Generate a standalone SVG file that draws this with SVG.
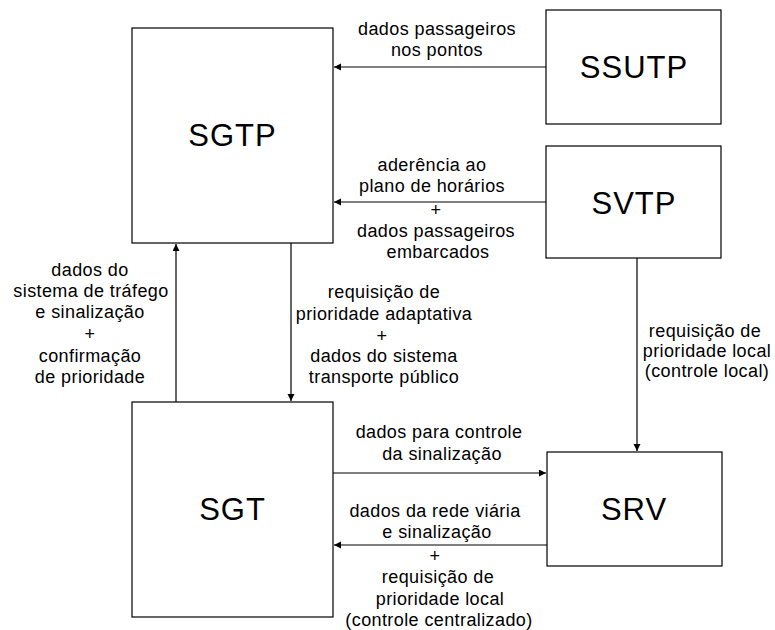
<svg xmlns="http://www.w3.org/2000/svg" width="775" height="630" viewBox="0 0 775 630">
<style>
.box{fill:#fff;stroke:#000;stroke-width:1.2}
.node{font-family:"Liberation Sans",Arial,sans-serif;font-size:31px;fill:#000;text-anchor:middle;letter-spacing:1px}
.lbl{font-family:"Liberation Sans",Arial,sans-serif;font-size:18px;fill:#000;text-anchor:middle;letter-spacing:0.4px}
.edge{fill:none;stroke:#000;stroke-width:1.2}
</style>
<defs>
<marker id="arr" markerUnits="userSpaceOnUse" markerWidth="8" markerHeight="8" refX="7" refY="3.5" orient="auto">
<path d="M0,0 L7,3.5 L0,7 Z" fill="#000"/>
</marker>
</defs>
<rect width="775" height="630" fill="#fff"/>
<g id="connectors">
<line class="edge" x1="546" y1="67" x2="334" y2="67" marker-end="url(#arr)"/>
<line class="edge" x1="546" y1="202" x2="334" y2="202" marker-end="url(#arr)"/>
<line class="edge" x1="176" y1="402" x2="176" y2="244" marker-end="url(#arr)"/>
<line class="edge" x1="291" y1="243" x2="291" y2="401" marker-end="url(#arr)"/>
<line class="edge" x1="637" y1="258" x2="637" y2="451" marker-end="url(#arr)"/>
<line class="edge" x1="333" y1="473" x2="546" y2="473" marker-end="url(#arr)"/>
<line class="edge" x1="547" y1="545" x2="334" y2="545" marker-end="url(#arr)"/>
</g>
<g id="labels">
<text class="lbl" x="437" y="35">dados passageiros</text>
<text class="lbl" x="437" y="56">nos pontos</text>
<text class="lbl" x="432" y="171">aderência ao</text>
<text class="lbl" x="432" y="192">plano de horários</text>
<text class="lbl" x="436" y="216">+</text>
<text class="lbl" x="436" y="237">dados passageiros</text>
<text class="lbl" x="438" y="258">embarcados</text>
<text class="lbl" x="90" y="276">dados do</text>
<text class="lbl" x="91" y="297">sistema de tráfego</text>
<text class="lbl" x="90" y="318">e sinalização</text>
<text class="lbl" x="90" y="340">+</text>
<text class="lbl" x="90" y="362">confirmação</text>
<text class="lbl" x="90" y="383">de prioridade</text>
<text class="lbl" x="384" y="298">requisição de</text>
<text class="lbl" x="384" y="320">prioridade adaptativa</text>
<text class="lbl" x="382" y="342">+</text>
<text class="lbl" x="384" y="362">dados do sistema</text>
<text class="lbl" x="384" y="383">transporte público</text>
<text class="lbl" x="705" y="337">requisição de</text>
<text class="lbl" x="707" y="357">prioridade local</text>
<text class="lbl" x="707" y="377">(controle local)</text>
<text class="lbl" x="439" y="438">dados para controle</text>
<text class="lbl" x="442" y="460">da sinalização</text>
<text class="lbl" x="435" y="517">dados da rede viária</text>
<text class="lbl" x="437" y="538">e sinalização</text>
<text class="lbl" x="435" y="562">+</text>
<text class="lbl" x="438" y="583">requisição de</text>
<text class="lbl" x="440" y="605">prioridade local</text>
<text class="lbl" x="439" y="626">(controle centralizado)</text>
</g>
<g id="SGTP"><rect class="box" x="132" y="28" width="201" height="215"/><text class="node" x="232.5" y="146">SGTP</text></g>
<g id="SSUTP"><rect class="box" x="546" y="10" width="175" height="114"/><text class="node" x="634" y="78">SSUTP</text></g>
<g id="SVTP"><rect class="box" x="546" y="146" width="175" height="112"/><text class="node" x="634" y="214">SVTP</text></g>
<g id="SGT"><rect class="box" x="132" y="402" width="201" height="215"/><text class="node" x="232.5" y="520">SGT</text></g>
<g id="SRV"><rect class="box" x="547" y="452" width="175" height="114"/><text class="node" x="634" y="520">SRV</text></g>
</svg>
